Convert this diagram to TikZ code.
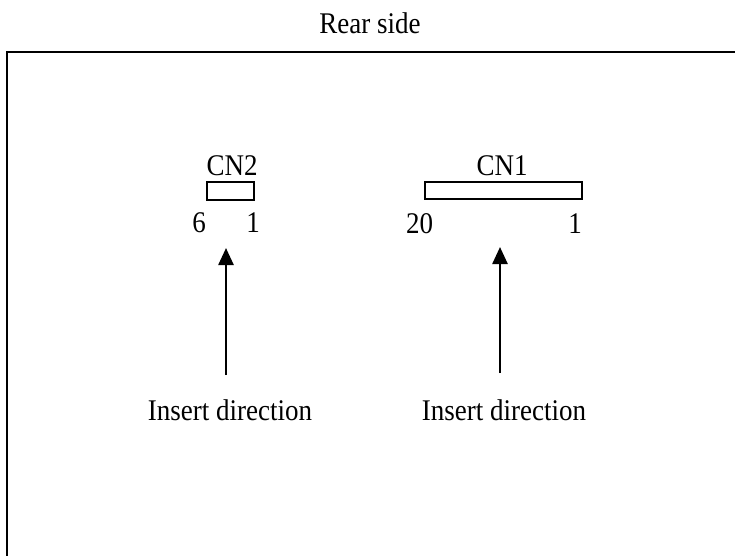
\documentclass[tikz,border=0pt]{standalone}
\usepackage{fontspec}
\setmainfont{Liberation Serif}[FakeStretch=0.9]
\usetikzlibrary{arrows.meta}
\begin{document}
\begin{tikzpicture}[x=1pt,y=-1pt,
  lbl/.style={anchor=base,inner sep=0pt,font=\fontsize{30}{36}\selectfont},
  conn/.style={draw,line width=1.5pt,rectangle,inner sep=0pt},
  insarrow/.style={line width=2.5pt,-{Triangle[length=17pt,width=15pt]}},
  frameline/.style={line width=2.5pt}]
\useasboundingbox (0,0) rectangle (735,555);
% frame
\draw[frameline] (7,560) -- (7,52) -- (740,52);
% title
\node[lbl] (title) at (370,33) {Rear side};
% CN2
\node[conn,minimum width=47pt,minimum height=18pt] (cn2box) at (230.5,191) {};
\node[lbl] (cn2) at (232,175) {CN2};
\node[lbl] (p6) at (199,232) {6};
\node[lbl] (p1a) at (253,232) {1};
% CN1
\node[conn,minimum width=157pt,minimum height=17pt] (cn1box) at (503.5,190.5) {};
\node[lbl] (cn1) at (502,175) {CN1};
\node[lbl] (p20) at (419.5,233) {20};
\node[lbl] (p1b) at (575,233) {1};
% arrows
\coordinate (a2s) at (226,375);
\coordinate (a2e) at (226,248);
\coordinate (a1s) at (500,373);
\coordinate (a1e) at (500,247);
\draw[insarrow] (a2s) -- (a2e);
\draw[insarrow] (a1s) -- (a1e);
\node[lbl] (ins2) at (230,420) {Insert direction};
\node[lbl] (ins1) at (504,420) {Insert direction};
\end{tikzpicture}
\end{document}
